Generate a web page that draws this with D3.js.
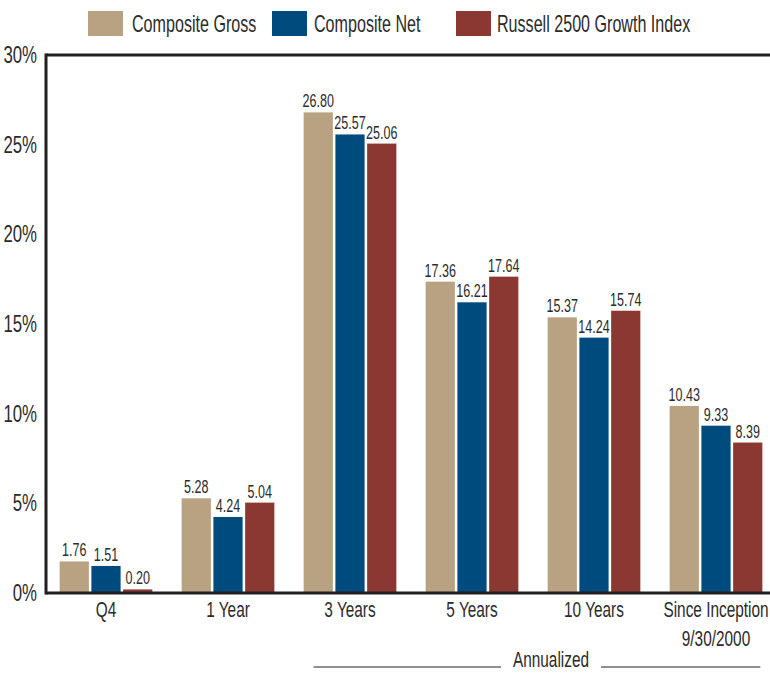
<!DOCTYPE html>
<html>
<head>
<meta charset="utf-8">
<script src="https://cdn.jsdelivr.net/npm/d3@7"></script>
<style>
  body { margin: 0; background: #fff; }
  text { font-family: "Liberation Sans", Arial, sans-serif; fill: #2b2b2b; }
</style>
</head>
<body>
<div id="chart"></div>
<script>
// categories and series
const categories = ['Q4', '1 Year', '3 Years', '5 Years', '10 Years', 'Since Inception|9/30/2000'];
const seriesNames = ['Composite Gross', 'Composite Net', 'Russell 2500 Growth Index'];
const gross = [1.76, 5.28, 26.80, 17.36, 15.37, 10.43];
const net = [1.51, 4.24, 25.57, 16.21, 14.24, 9.33];
const russell = [0.20, 5.04, 25.06, 17.64, 15.74, 8.39];
const yTicks = [0, 5, 10, 15, 20, 25, 30];
const colors = ['#b8a281', '#004b7d', '#8c3832'];

const width = 770;
const height = 673;

const svg = d3.select('#chart')
    .append('svg')
    .attr('width', width)
    .attr('height', height);

// narrow text helper (condensed look)
function label(parent, x, yy, str, size, anchor, sx) {
    return parent.append('text')
        .attr('transform', `translate(${x},${yy}) scale(${sx || 0.7},1)`)
        .attr('text-anchor', anchor || 'start')
        .style('font-size', size + 'px')
        .text(str);
}

const x0 = d3.scaleBand()
    .domain(categories)
    .range([45, 777])
    .paddingInner(0.24)
    .paddingOuter(0.12);

const x1 = d3.scaleBand()
    .domain(seriesNames)
    .range([0, x0.bandwidth()])
    .paddingInner(0.08);

const y = d3.scaleLinear()
    .domain([0, 30])
    .range([593, 55]);

const values = [gross, net, russell];

// y tick labels
const yAxisG = svg.append('g');
yTicks.forEach(t => {
    label(yAxisG, 37, y(t) + 8, t + '%', 24, 'end');
});

// bars
const groups = svg.selectAll('.grp')
    .data(categories)
    .enter()
    .append('g')
    .attr('class', 'grp')
    .attr('transform', d => `translate(${x0(d)},0)`);

groups.each(function (cat, i) {
    const g = d3.select(this);
    seriesNames.forEach((s, j) => {
        const v = values[j][i];
        g.append('rect')
            .attr('x', x1(s))
            .attr('y', y(v))
            .attr('width', x1.bandwidth())
            .attr('height', y(0) - y(v))
            .attr('fill', colors[j]);
        label(g, x1(s) + x1.bandwidth() / 2, y(v) - 5, v.toFixed(2), 19, 'middle', 0.66);
    });
    // category label
    cat.split('|').forEach((ln, k) => {
        label(g, x0.bandwidth() / 2, 617 + k * 29, ln, 22, 'middle');
    });
});

// frame lines
svg.append('line')
    .attr('x1', 46).attr('x2', 770)
    .attr('y1', y(30)).attr('y2', y(30))
    .attr('stroke', '#231f20').attr('stroke-width', 3);
svg.append('line')
    .attr('x1', 46).attr('x2', 770)
    .attr('y1', y(0)).attr('y2', y(0))
    .attr('stroke', '#231f20').attr('stroke-width', 3);
svg.append('line')
    .attr('x1', 46).attr('x2', 46)
    .attr('y1', y(30) - 1.5).attr('y2', y(0) + 1.5)
    .attr('stroke', '#231f20').attr('stroke-width', 3);

// annualized bracket
const annLeft = x0('3 Years') + 10;
const annRight = x0(categories[5]) + x0.bandwidth() - 2;
const annMid = (annLeft + annRight) / 2 + 14;
svg.append('line')
    .attr('x1', annLeft).attr('x2', annMid - 50)
    .attr('y1', 667).attr('y2', 667)
    .attr('stroke', '#231f20').attr('stroke-width', 1);
svg.append('line')
    .attr('x1', annMid + 50).attr('x2', annRight)
    .attr('y1', 667).attr('y2', 667)
    .attr('stroke', '#231f20').attr('stroke-width', 1);
label(svg, annMid, 667, 'Annualized', 22, 'middle');

// legend
const legendX = [88, 272, 456];
const legendGap = [9, 7, 6];
seriesNames.forEach((s, i) => {
    const lg = svg.append('g')
        .attr('transform', `translate(${legendX[i]},11)`);
    lg.append('rect')
        .attr('width', 35)
        .attr('height', 25)
        .attr('fill', colors[i]);
    label(lg, 35 + legendGap[i], 21, s, 23, 'start');
});
</script>
</body>
</html>
